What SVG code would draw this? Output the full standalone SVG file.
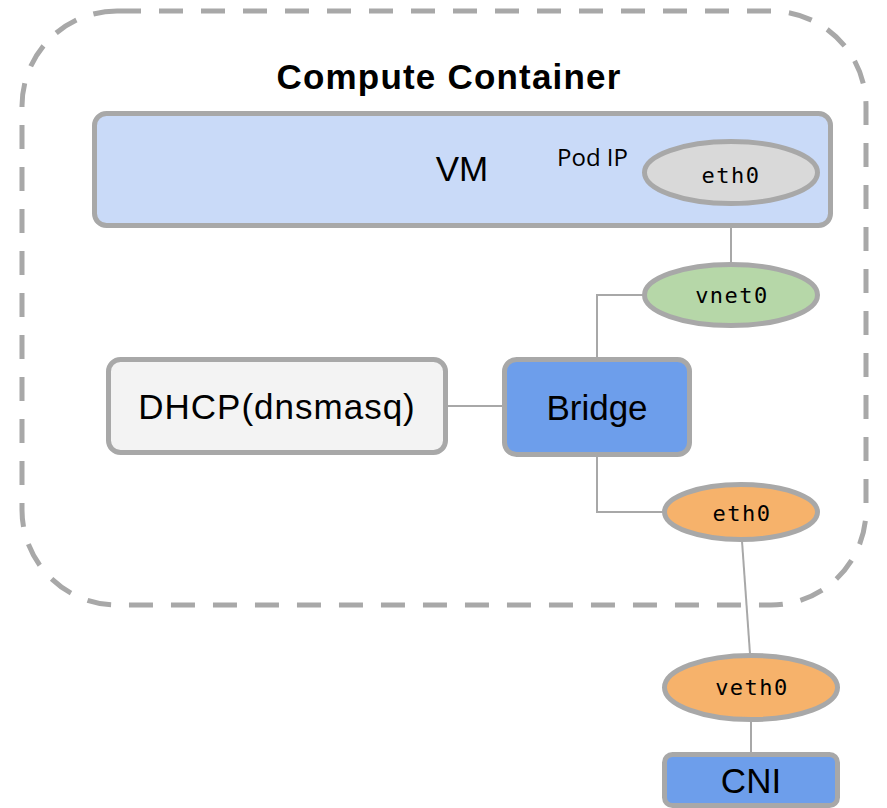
<svg xmlns="http://www.w3.org/2000/svg" width="887" height="808" viewBox="0 0 887 808">
  <style>
    .box { stroke: #a8a8a8; stroke-width: 5; }
    .conn { stroke: #a8a8a8; stroke-width: 2; fill: none; }
    .lbl { font-family: "Liberation Sans", Arial, sans-serif; font-size: 35px; fill: #000; text-anchor: middle; }
    .mono { font-family: "DejaVu Sans Mono", monospace; font-size: 22px; fill: #000; text-anchor: middle; letter-spacing: 1.5px; }
  </style>
  <rect width="887" height="808" fill="#ffffff"/>
  <g id="container">
    <rect x="22" y="11" width="844" height="594" rx="95" ry="95" fill="none" stroke="#a8a8a8" stroke-width="5" stroke-dasharray="24 18"/>
    <text x="449" y="89" font-family="Liberation Sans, Arial, sans-serif" font-weight="bold" font-size="35" text-anchor="middle" letter-spacing="1.2">Compute Container</text>
  </g>
  <g id="connectors">
    <line class="conn" x1="731" y1="206" x2="731" y2="263"/>
    <path class="conn" d="M643 295 H597 V358"/>
    <line class="conn" x1="448" y1="406" x2="503" y2="406"/>
    <path class="conn" d="M597 456 V512 H663"/>
    <line class="conn" x1="742" y1="541" x2="750" y2="654"/>
    <line class="conn" x1="751" y1="721" x2="751" y2="753"/>
  </g>
  <g id="vm">
    <rect class="box" x="94.5" y="113.5" width="736" height="112" rx="12" fill="#c9daf8"/>
    <text class="lbl" x="462" y="181">VM</text>
    <text x="557" y="166" font-family="Open Sans, Noto Sans, sans-serif" font-size="24" fill="#000">Pod IP</text>
  </g>
  <g id="vm-eth0">
    <ellipse class="box" cx="731" cy="172.5" rx="86.5" ry="31" fill="#d9d9d9"/>
    <text class="mono" x="731" y="183">eth0</text>
  </g>
  <g id="vnet0">
    <ellipse class="box" cx="731" cy="295" rx="86.5" ry="30.5" fill="#b6d7a8"/>
    <text class="mono" x="732" y="303">vnet0</text>
  </g>
  <g id="dhcp">
    <rect class="box" x="108.5" y="359.5" width="337" height="93" rx="12" fill="#f3f3f3"/>
    <text class="lbl" x="277" y="419" letter-spacing="1">DHCP(dnsmasq)</text>
  </g>
  <g id="bridge">
    <rect class="box" x="504.5" y="359.5" width="185" height="95" rx="12" fill="#6d9eeb"/>
    <text class="lbl" x="597" y="420">Bridge</text>
  </g>
  <g id="eth0">
    <ellipse class="box" cx="741" cy="512" rx="76.5" ry="27.5" fill="#f6b26b"/>
    <text class="mono" x="742" y="521">eth0</text>
  </g>
  <g id="veth0">
    <ellipse class="box" cx="751" cy="687.5" rx="86.5" ry="32" fill="#f6b26b"/>
    <text class="mono" x="752" y="695">veth0</text>
  </g>
  <g id="cni">
    <rect class="box" x="664.5" y="754.5" width="173" height="51" rx="8" fill="#6d9eeb"/>
    <text class="lbl" x="751" y="793">CNI</text>
  </g>
</svg>
